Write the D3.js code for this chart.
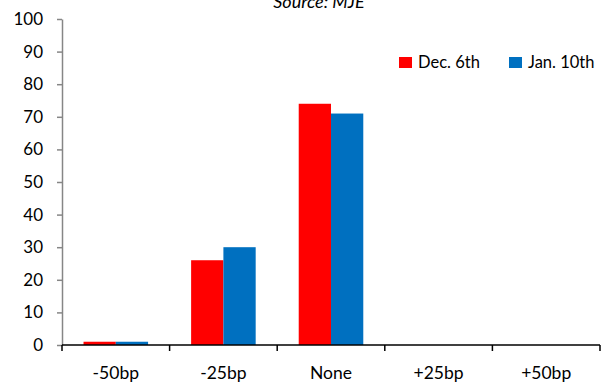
<!DOCTYPE html>
<html>
<head>
<meta charset="utf-8">
<script src="https://cdn.jsdelivr.net/npm/d3@7"></script>
<style>
  html, body { margin: 0; padding: 0; background: #fff; }
  svg { display: block; font-family: Lato, "Open Sans", sans-serif; }
</style>
</head>
<body>
<svg id="chart" width="609" height="383"></svg>
<script>
const categories = ["-50bp", "-25bp", "None", "+25bp", "+50bp"];
const seriesNames = ["Dec. 6th", "Jan. 10th"];
const dec6 = [1, 26, 74, 0, 0];
const jan10 = [1, 30, 71, 0, 0];
const colors = ["#ff0000", "#0070c0"];
const yTicks = [0, 10, 20, 30, 40, 50, 60, 70, 80, 90, 100];

const svg = d3.select("#chart");
const margin = { left: 62, right: 9, top: 19, bottom: 38 };
const width = 609, height = 383;

const x = d3.scaleBand().domain(categories)
  .range([margin.left, width - margin.right]).paddingInner(0.4).paddingOuter(0.2);
const xSub = d3.scaleBand().domain(seriesNames).range([0, x.bandwidth()]);
const y = d3.scaleLinear().domain([0, 100]).range([height - margin.bottom, margin.top]);

// Title, sitting at the very top edge
svg.append("text")
  .attr("x", 319).attr("y", 8)
  .attr("text-anchor", "middle")
  .attr("font-style", "italic")
  .attr("font-size", 18)
  .text("Source: MJE");

// Bars
const data = [dec6, jan10];
data.forEach((vals, si) => {
  svg.append("g").selectAll("rect")
    .data(vals.map((v, i) => ({ cat: categories[i], v })))
    .join("rect")
    .attr("x", d => x(d.cat) + xSub(seriesNames[si]))
    .attr("width", xSub.bandwidth())
    .attr("y", d => y(d.v))
    .attr("height", d => y(0) - y(d.v))
    .attr("fill", colors[si]);
});

// Y axis
const yAxis = svg.append("g")
  .attr("transform", `translate(${margin.left},0)`)
  .call(d3.axisLeft(y).tickValues(yTicks).tickSize(5).tickSizeOuter(0).tickPadding(14));
yAxis.select(".domain").attr("stroke", "#868686").attr("stroke-width", 1.5);
yAxis.selectAll(".tick line").attr("stroke", "#868686").attr("stroke-width", 1.5);
yAxis.selectAll("text").attr("font-size", 17).attr("fill", "#000").attr("font-family", "Lato, sans-serif");

// X axis with ticks at category boundaries
const xAxisG = svg.append("g").attr("transform", `translate(0,${y(0)})`);
xAxisG.append("line")
  .attr("x1", margin.left).attr("x2", width - margin.right)
  .attr("stroke", "#000").attr("stroke-width", 1.5);
const step = x.step();
const bounds = d3.range(categories.length + 1).map(i => margin.left + i * step);
xAxisG.selectAll(".bt").data(bounds).join("line")
  .attr("x1", d => d).attr("x2", d => d).attr("y1", 0).attr("y2", 6)
  .attr("stroke", "#000").attr("stroke-width", 1.5);
xAxisG.selectAll(".lbl").data(categories).join("text")
  .attr("x", d => x(d) + x.bandwidth() / 2)
  .attr("y", 34)
  .attr("text-anchor", "middle")
  .attr("font-size", 17.5)
  .text(d => d);

// Legend
const legendX = [399, 509];
seriesNames.forEach((name, i) => {
  const g = svg.append("g").attr("transform", `translate(${legendX[i]},57)`);
  g.append("rect").attr("width", 13).attr("height", 11).attr("fill", colors[i]);
  g.append("text").attr("x", 19).attr("y", 11).attr("font-size", 16.5).text(name);
});
</script>
</body>
</html>
